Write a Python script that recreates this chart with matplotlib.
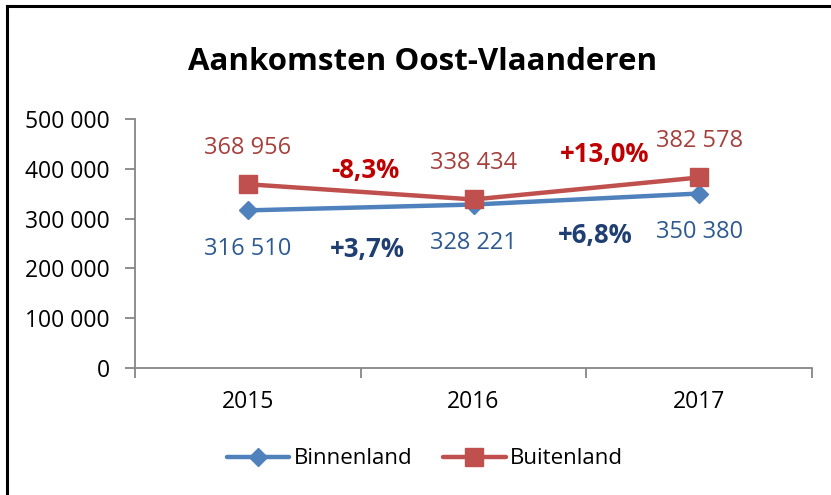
import matplotlib
matplotlib.use("Agg")
import matplotlib.pyplot as plt
from matplotlib.lines import Line2D

plt.rcParams['font.family'] = ['Open Sans', 'DejaVu Sans']

years = ["2015", "2016", "2017"]
binnenland = [316510, 328221, 350380]
buitenland = [368956, 338434, 382578]
pct_binnen = ["+3,7%", "+6,8%"]
pct_buiten = ["-8,3%", "+13,0%"]
yticks = [0, 100000, 200000, 300000, 400000, 500000]

def fmt(v):
    return f"{v:,}".replace(",", " ")

W, H = 831, 495
fig = plt.figure(figsize=(W/100, H/100), dpi=100)
ax = fig.add_axes([135/W, 1-368/H, (812-135)/W, (368-119)/H])

blue = "#4F81BD"
red = "#C0504D"
x = list(range(len(years)))
ax.plot(x, binnenland, color=blue, lw=3.2, marker="D", ms=9, label="Binnenland",
        solid_capstyle="round", zorder=3)
ax.plot(x, buitenland, color=red, lw=3.2, marker="s", ms=13, label="Buitenland",
        solid_capstyle="round", zorder=4)

ax.set_xlim(-0.5, len(years)-0.5)
ax.set_ylim(0, 500000)
ax.set_yticks(yticks)
ax.set_yticklabels([fmt(v) for v in yticks])
ax.set_xticks(x)
ax.set_xticklabels(years)
ax.set_xticks([-0.5, 0.5, 1.5, 2.5], minor=True)

grey = "#868686"
for s in ["top", "right"]:
    ax.spines[s].set_visible(False)
for s in ["left", "bottom"]:
    ax.spines[s].set_color(grey)
    ax.spines[s].set_linewidth(1.3)
ax.tick_params(axis="y", direction="out", length=7, width=1.3, color=grey,
               labelsize=16.5, pad=11, labelcolor="black")
ax.tick_params(axis="x", which="major", length=0, labelsize=16.5, pad=16)
ax.tick_params(axis="x", which="minor", direction="out", length=7, width=1.3, color=grey)

# value labels
for i, v in enumerate(buitenland):
    ax.annotate(fmt(v), (i, v), xytext=(0, 26), textcoords="offset points",
                ha="center", va="center", fontsize=17, color="#A5403D")
for i, v in enumerate(binnenland):
    ax.annotate(fmt(v), (i, v), xytext=(0, -28), textcoords="offset points",
                ha="center", va="center", fontsize=17, color="#2E5A92")

# percentage labels
ax.text(0.52, 395600, pct_buiten[0], ha="center", va="center", fontsize=18.5,
        fontweight="bold", color="#C00000")
ax.text(1.58, 429700, pct_buiten[1], ha="center", va="center", fontsize=18.5,
        fontweight="bold", color="#C00000")
ax.text(0.53, 237000, pct_binnen[0], ha="center", va="center", fontsize=18.5,
        fontweight="bold", color="#1F3F73")
ax.text(1.54, 267000, pct_binnen[1], ha="center", va="center", fontsize=18.5,
        fontweight="bold", color="#1F3F73")

fig.text(423/W, 1-62/H, "Aankomsten Oost-Vlaanderen", ha="center", va="center",
         fontsize=22.5, fontweight="bold", color="black")

leg = fig.legend(loc="center", bbox_to_anchor=(425/W, 1-459/H), ncol=2, frameon=False,
                 fontsize=16, handlelength=2.8, columnspacing=1.4, handletextpad=0.2)

# outer border (top and left visible)
fig.add_artist(Line2D([7/W, 1.0], [1-6/H, 1-6/H], color="black", lw=2.2,
                      transform=fig.transFigure))
fig.add_artist(Line2D([7/W, 7/W], [0, 1-6/H], color="black", lw=2.2,
                      transform=fig.transFigure))

fig.savefig("out.png", dpi=100)
